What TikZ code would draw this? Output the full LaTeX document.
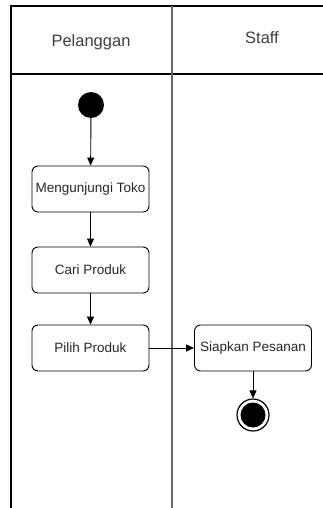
\documentclass[tikz,border=0pt]{standalone}
\usepackage{fontspec}
\setmainfont{Liberation Sans}
\usetikzlibrary{arrows.meta}

\begin{document}
\begin{tikzpicture}[x=1pt, y=-1pt,
    lane/.style={font=\fontsize{16.5}{19}\selectfont, text=black!75},
    activity/.style={draw, rounded corners=6pt, line width=0.9pt,
        minimum width=117pt, minimum height=46pt, inner sep=0pt,
        font=\fontsize{13.5}{16}\selectfont, text=black!85},
    flow/.style={-{Triangle[length=8pt,width=7pt]}, line width=0.9pt}]
    \useasboundingbox (0,0) rectangle (323,508);

    \draw[line width=1.4pt] (11,508) -- (11,6) -- (323,6);
    \draw[line width=1.2pt] (11,74) -- (323,74);
    \draw[line width=1.6pt, black!60] (172,6) -- (172,508);

    \node[lane] (pelanggan) at (91,42) {Pelanggan};
    \node[lane] (staff) at (262,38) {Staff};

    \node[circle, fill=black, minimum size=26pt, inner sep=0pt] (start) at (91,105) {};
    \node[activity] (kunjung) at (90.5,189) {Mengunjungi Toko};
    \node[activity] (cari) at (90.5,270) {Cari Produk};
    \node[activity] (pilih) at (90.5,348) {Pilih Produk};
    \node[activity] (siapkan) at (253,348) {Siapkan Pesanan};
    \node[circle, draw, line width=1.2pt, minimum size=32pt, inner sep=0pt] (akhir) at (253,415) {};
    \node[circle, fill=black, minimum size=25pt, inner sep=0pt] at (akhir) {};

    \draw[flow] (start) -- (kunjung);
    \draw[flow] (kunjung) -- (cari);
    \draw[flow] (cari) -- (pilih);
    \draw[flow] (pilih) -- (siapkan);
    \draw[flow] (siapkan) -- (akhir);
\end{tikzpicture}
\end{document}
